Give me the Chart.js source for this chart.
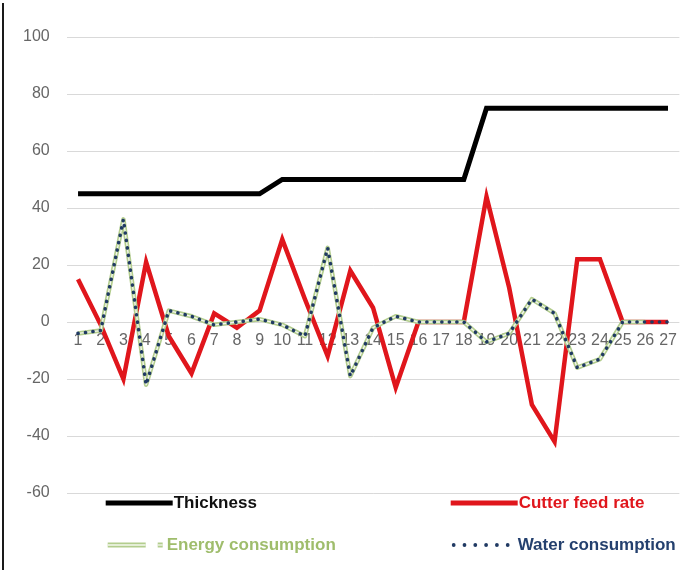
<!DOCTYPE html>
<html>
<head>
<meta charset="utf-8">
<script src="https://cdn.jsdelivr.net/npm/chart.js@4.4.1/dist/chart.umd.min.js"></script>
<style>
  html, body { margin: 0; padding: 0; background: #fff; }
  #wrap { position: relative; width: 686px; height: 572px; }
  #frame { position: absolute; left: 2px; top: 3px; width: 2px; height: 567px; background: #1a1a1a; }
  canvas { display: block; }
</style>
</head>
<body>
<div id="wrap">
  <canvas id="c" width="686" height="572"></canvas>
  <div id="frame"></div>
</div>
<script>
// Sample numbers along the horizontal axis
const categories = ['1','2','3','4','5','6','7','8','9','10','11','12','13','14',
                    '15','16','17','18','19','20','21','22','23','24','25','26','27'];

// Series values
const thickness = [45,45,45,45,45,45,45,45,45,50,50,50,50,50,50,50,50,50,75,75,75,75,75,75,75,75,75];
const cutterFeedRate = [15,-1,-20,21,-5,-18,3,-2,4,29,8,-12,18,5,-23,0,0,0,44,12,-29,-42,22,22,0,0,0];
const energyConsumption = [-4,-3,36,-22,4,2,-1,0,1,-1,-5,26,-19,-2,2,0,0,0,-7,-4,8,3,-16,-13,0,0,null];
const waterConsumption = [-4,-3,36,-22,4,2,-1,0,1,-1,-5,26,-19,-2,2,0,0,0,-7,-4,8,3,-16,-13,0,0,0];

// Value axis ticks
const yTicks = [-60,-40,-20,0,20,40,60,80,100];

const RED = '#e0161c';
const GREEN = '#b3cd8e';
const NAVY = '#203a63';

// Draws a thin light core over the energy line so it reads as a double line
const doubleLine = {
  id: 'doubleLine',
  afterDatasetDraw(chart, args) {
    const ds = chart.data.datasets[args.index];
    if (!ds.doubleLine) return;
    const ctx = chart.ctx;
    const pts = args.meta.data;
    ctx.save();
    ctx.strokeStyle = '#f4f8ee';
    ctx.lineWidth = 1.3;
    ctx.lineJoin = 'round';
    ctx.beginPath();
    let started = false;
    pts.forEach((p, i) => {
      if (ds.data[i] === null || p.skip) { started = false; return; }
      if (!started) { ctx.moveTo(p.x, p.y); started = true; }
      else ctx.lineTo(p.x, p.y);
    });
    ctx.stroke();
    ctx.restore();
  }
};

// Two-column legend below the plot
const legendBlock = {
  id: 'legendBlock',
  afterDraw(chart) {
    const { ctx, chartArea: a } = chart;
    const ds = chart.data.datasets;
    const cols = [a.left + 39, a.left + 384];
    const rows = [a.bottom + 10, a.bottom + 52];
    ctx.save();
    ctx.font = 'bold 17px "Liberation Sans", Arial, sans-serif';
    ctx.textBaseline = 'middle';
    ds.forEach((d, i) => {
      const x = cols[i % 2];
      const y = rows[Math.floor(i / 2)];
      let tx = x + 68;
      ctx.lineCap = 'butt';
      if (d.sample === 'solid') {
        ctx.strokeStyle = d.borderColor;
        ctx.lineWidth = 5;
        ctx.beginPath(); ctx.moveTo(x, y); ctx.lineTo(x + 67, y); ctx.stroke();
      } else if (d.sample === 'double') {
        const segs = [[x + 2, x + 40], [x + 52, x + 57]];
        segs.forEach(([s, e]) => {
          ctx.strokeStyle = GREEN; ctx.lineWidth = 5;
          ctx.beginPath(); ctx.moveTo(s, y); ctx.lineTo(e, y); ctx.stroke();
          ctx.strokeStyle = '#f4f8ee'; ctx.lineWidth = 1.3;
          ctx.beginPath(); ctx.moveTo(s, y); ctx.lineTo(e, y); ctx.stroke();
        });
        tx = x + 61;
      } else if (d.sample === 'dots') {
        ctx.fillStyle = NAVY;
        for (let k = 0; k < 6; k++) {
          ctx.beginPath(); ctx.arc(x + 3 + k * 10.8, y, 1.9, 0, Math.PI * 2); ctx.fill();
        }
        tx = x + 67;
      }
      ctx.fillStyle = d.legendColor;
      ctx.fillText(d.label, tx, y);
    });
    ctx.restore();
  }
};

new Chart(document.getElementById('c'), {
  type: 'line',
  data: {
    labels: categories,
    datasets: [
      { label: 'Thickness', data: thickness, borderColor: '#000', borderWidth: 5,
        order: 4, sample: 'solid', legendColor: '#111' },
      { label: 'Cutter feed rate', data: cutterFeedRate, borderColor: RED, borderWidth: 4.5,
        order: 3, sample: 'solid', legendColor: RED },
      { label: 'Energy consumption', data: energyConsumption, borderColor: GREEN, borderWidth: 4.5,
        borderJoinStyle: 'round', order: 2, sample: 'double', legendColor: '#9fbd6c',
        doubleLine: true, spanGaps: false },
      { label: 'Water consumption', data: waterConsumption, borderColor: NAVY, borderWidth: 3.6,
        borderDash: [0.1, 7.4], borderCapStyle: 'round', borderJoinStyle: 'round',
        order: 1, sample: 'dots', legendColor: '#24406e' }
    ]
  },
  options: {
    responsive: false,
    devicePixelRatio: 1,
    animation: false,
    elements: {
      point: { radius: 0, hoverRadius: 0 },
      line: { tension: 0, borderJoinStyle: 'miter', fill: false }
    },
    layout: { padding: { left: 6, right: 4, top: 37, bottom: 79 } },
    plugins: { legend: { display: false }, tooltip: { enabled: false } },
    scales: {
      y: {
        min: yTicks[0],
        max: yTicks[yTicks.length - 1],
        afterBuildTicks(scale) { scale.ticks = yTicks.map(v => ({ value: v })); },
        grid: { color: '#d9d9d9', lineWidth: 1, drawTicks: false },
        border: { display: false },
        ticks: { color: '#666', padding: 17, font: { family: '"Liberation Sans", Arial, sans-serif', size: 16 } }
      },
      x: {
        position: { y: 0 },
        offset: true,
        grid: { display: false, drawTicks: false },
        border: { display: false },
        ticks: { color: '#666', padding: 9, autoSkip: false, maxRotation: 0, minRotation: 0,
                 font: { family: '"Liberation Sans", Arial, sans-serif', size: 16 } }
      }
    }
  },
  plugins: [doubleLine, legendBlock]
});
</script>
</body>
</html>
